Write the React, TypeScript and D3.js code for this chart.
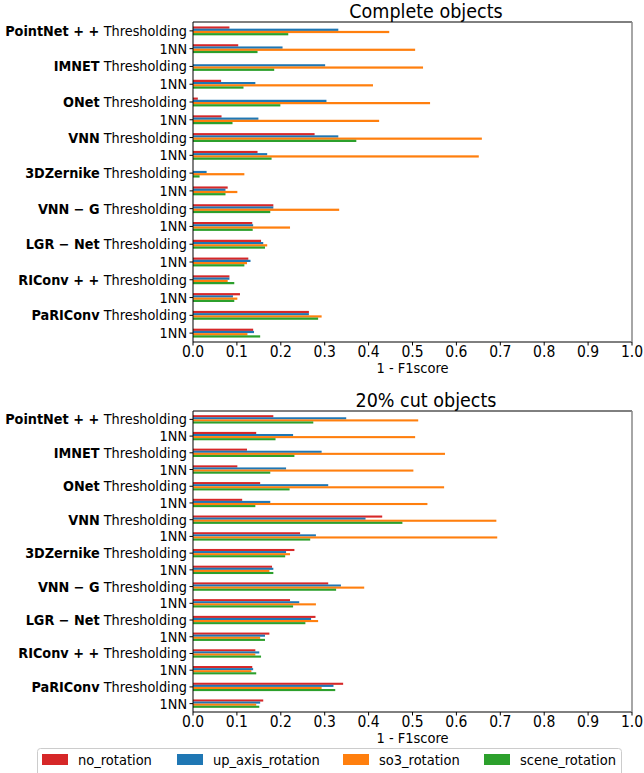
import React, { useEffect, useRef } from "react";
import * as d3 from "d3";

const models = ["PointNet + + ", "IMNET", "ONet", "VNN", "3DZernike", "VNN − G", "LGR − Net", "RIConv + + ", "PaRIConv"];
const methods = ["Thresholding", "1NN"];
const series = ["no_rotation", "up_axis_rotation", "so3_rotation", "scene_rotation"];
const colors = ["#d62728", "#1f77b4", "#ff7f0e", "#2ca02c"];
const xTicks = [0, 0.1, 0.2, 0.3, 0.4, 0.5, 0.6, 0.7, 0.8, 0.9, 1.0];

// rows: model x method, columns: no / up_axis / so3 / scene
const completeValues = [
  [0.083, 0.331, 0.447, 0.217],
  [0.103, 0.204, 0.506, 0.147],
  [0.0, 0.301, 0.524, 0.185],
  [0.064, 0.142, 0.41, 0.115],
  [0.011, 0.304, 0.54, 0.199],
  [0.065, 0.149, 0.424, 0.09],
  [0.277, 0.331, 0.658, 0.372],
  [0.147, 0.169, 0.651, 0.179],
  [0.0, 0.031, 0.117, 0.015],
  [0.079, 0.074, 0.101, 0.074],
  [0.183, 0.183, 0.333, 0.176],
  [0.135, 0.137, 0.221, 0.136],
  [0.155, 0.16, 0.169, 0.164],
  [0.126, 0.131, 0.123, 0.117],
  [0.083, 0.083, 0.079, 0.094],
  [0.107, 0.091, 0.101, 0.094],
  [0.264, 0.264, 0.293, 0.285],
  [0.137, 0.139, 0.124, 0.153],
];

const cutValues = [
  [0.183, 0.349, 0.513, 0.274],
  [0.144, 0.228, 0.506, 0.188],
  [0.123, 0.293, 0.574, 0.231],
  [0.101, 0.212, 0.502, 0.176],
  [0.153, 0.308, 0.572, 0.22],
  [0.112, 0.176, 0.534, 0.142],
  [0.431, 0.393, 0.691, 0.477],
  [0.244, 0.28, 0.693, 0.267],
  [0.231, 0.212, 0.221, 0.21],
  [0.18, 0.183, 0.174, 0.183],
  [0.308, 0.337, 0.39, 0.326],
  [0.221, 0.242, 0.28, 0.228],
  [0.279, 0.269, 0.285, 0.256],
  [0.174, 0.164, 0.153, 0.164],
  [0.142, 0.151, 0.142, 0.155],
  [0.135, 0.137, 0.133, 0.144],
  [0.342, 0.32, 0.293, 0.324],
  [0.16, 0.153, 0.144, 0.151],
];

const FONT = "'DejaVu Sans Condensed', 'DejaVu Sans', sans-serif";

const App = () => {
  const svgRef = useRef(null);

  useEffect(() => {
    const svg = d3.select(svgRef.current);
    svg.selectAll("*").remove();

    const left = 193, right = 632;
    const x = d3.scaleLinear().domain([0, 1]).range([left, right]);
    const rows = models.flatMap((m, i) => methods.map((k, j) => ({ model: m, method: k, idx: i * 2 + j })));

    const drawPanel = (values, top, bottom, title) => {
      const g = svg.append("g");
      const y = d3.scaleBand().domain(rows.map((r) => String(r.idx))).range([top, bottom]).padding(0);
      const step = y.bandwidth();
      const barH = step * 0.125;

      // bars
      rows.forEach((r) => {
        const cy = y(String(r.idx)) + step / 2;
        values[r.idx].forEach((v, k) => {
          g.append("rect")
            .attr("x", x(0))
            .attr("y", cy - step * 0.25 + k * barH)
            .attr("width", x(v) - x(0))
            .attr("height", barH)
            .attr("fill", colors[k]);
        });
      });

      // spines
      g.append("line").attr("x1", left).attr("x2", right).attr("y1", top).attr("y2", top).attr("stroke", "#000").attr("stroke-width", 1);
      g.append("line").attr("x1", left).attr("x2", right).attr("y1", bottom).attr("y2", bottom).attr("stroke", "#000").attr("stroke-width", 1);
      g.append("line").attr("x1", left).attr("x2", left).attr("y1", top).attr("y2", bottom).attr("stroke", "#000").attr("stroke-width", 1);
      g.append("line").attr("x1", right).attr("x2", right).attr("y1", top).attr("y2", bottom).attr("stroke", "#888").attr("stroke-width", 1.5);

      // y ticks + labels
      rows.forEach((r) => {
        const cy = y(String(r.idx)) + step / 2;
        g.append("line").attr("x1", left - 3.5).attr("x2", left).attr("y1", cy).attr("y2", cy).attr("stroke", "#000");
        const t = g.append("text")
          .attr("x", left - 6)
          .attr("y", cy)
          .attr("dy", "0.35em")
          .attr("text-anchor", "end")
          .attr("font-family", FONT)
          .attr("font-size", 14.3)
          .attr("fill", "#000");
        if (r.method === "Thresholding") {
          t.append("tspan").attr("font-weight", "bold").text(r.model);
          t.append("tspan").text(" " + r.method);
        } else {
          t.text(r.method);
        }
      });

      // x ticks
      xTicks.forEach((v) => {
        g.append("line").attr("x1", x(v)).attr("x2", x(v)).attr("y1", bottom).attr("y2", bottom + 3.5).attr("stroke", "#000");
        g.append("text")
          .attr("x", x(v))
          .attr("y", bottom + 15)
          .attr("text-anchor", "middle")
          .attr("font-family", FONT)
          .attr("font-size", 15.5)
          .text(v.toFixed(1));
      });

      g.append("text")
        .attr("x", (left + right) / 2)
        .attr("y", bottom + 31)
        .attr("text-anchor", "middle")
        .attr("font-family", FONT)
        .attr("font-size", 14.5)
        .text("1 - F1score");

      g.append("text")
        .attr("x", 426)
        .attr("y", top - 4)
        .attr("text-anchor", "middle")
        .attr("font-family", FONT)
        .attr("font-size", 19.5)
        .text(title);
    };

    drawPanel(completeValues, 22, 342, "Complete objects");
    drawPanel(cutValues, 411, 712, "20% cut objects");

    // legend
    const lg = svg.append("g");
    lg.append("rect")
      .attr("x", 37.5).attr("y", 748.5).attr("width", 584).attr("height", 40)
      .attr("rx", 3).attr("fill", "#fff").attr("stroke", "#ccc");
    const legendX = [42, 177, 343, 484];
    series.forEach((s, k) => {
      lg.append("rect").attr("x", legendX[k]).attr("y", 754).attr("width", 26).attr("height", 11).attr("fill", colors[k]);
      lg.append("text")
        .attr("x", legendX[k] + 36)
        .attr("y", 760)
        .attr("dy", "0.35em")
        .attr("font-family", FONT)
        .attr("font-size", 14.5)
        .text(s);
    });
  }, []);

  return <svg ref={svgRef} width={644} height={773} style={{ position: "absolute", left: 0, top: 0 }}></svg>;
};

export default App;
